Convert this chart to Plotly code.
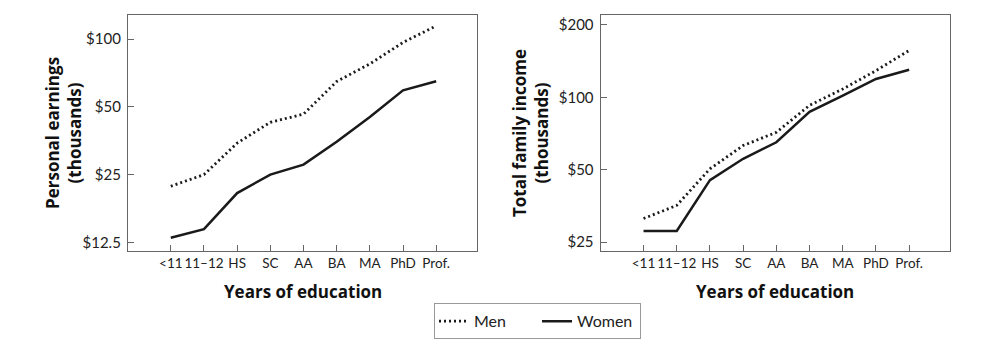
import plotly.graph_objects as go

categories = ["<11", "11\u201312", "HS", "SC", "AA", "BA", "MA", "PhD", "Prof."]

earn_men = [22.2, 25.0, 34.5, 42.7, 46.4, 64.8, 77.6, 96.6, 114.5]
earn_women = [13.1, 14.3, 20.7, 25.0, 27.7, 35.0, 45.1, 59.2, 65.0]

fam_men = [31.3, 35.5, 50.4, 63.0, 71.5, 92.6, 108.3, 129.1, 156.7]
fam_women = [27.8, 27.8, 45.2, 55.5, 65.0, 87.0, 101.6, 119.2, 130.3]

earn_ticks = [12.5, 25, 50, 100]
earn_ticktext = ["$12.5", "$25", "$50", "$100"]
fam_ticks = [25, 50, 100, 200]
fam_ticktext = ["$25", "$50", "$100", "$200"]

FONT = "Lato"
TFONT = "Open Sans"
LINE = "#1a1a1a"
FRAME = "#666666"
xs = list(range(len(categories)))

fig = go.Figure()
men_style = dict(color=LINE, width=2.8, dash="2px,3px")
women_style = dict(color=LINE, width=2.5)

fig.add_trace(go.Scatter(x=xs, y=earn_men, mode="lines", line=men_style, name="Men",
                         xaxis="x", yaxis="y", legendgroup="m"))
fig.add_trace(go.Scatter(x=xs, y=earn_women, mode="lines", line=women_style, name="Women",
                         xaxis="x", yaxis="y", legendgroup="w"))
fig.add_trace(go.Scatter(x=xs, y=fam_men, mode="lines", line=men_style, name="Men",
                         xaxis="x2", yaxis="y2", legendgroup="m", showlegend=False))
fig.add_trace(go.Scatter(x=xs, y=fam_women, mode="lines", line=women_style, name="Women",
                         xaxis="x2", yaxis="y2", legendgroup="w", showlegend=False))

W, H = 1007, 353
L, R, T, B = 128, 57, 14.5, 101.5
pw = W - L - R
ph = H - T - B

def px(x):
    return (x - L) / pw

def py(y):
    return (H - B - y) / ph

common_x = dict(tickmode="array", tickvals=xs, ticktext=categories, range=[-1.29, 9.23],
                tickangle=0,
                showgrid=False, zeroline=False, showline=True, mirror=True, linecolor=FRAME,
                linewidth=1.3, ticks="inside", ticklen=6, tickcolor=FRAME, tickwidth=1.3,
                tickfont=dict(family=FONT, size=13.5, color="#222"), fixedrange=True)
common_y = dict(type="log", tickmode="array", showgrid=False, zeroline=False, showline=True,
                mirror=True, linecolor=FRAME, linewidth=1.3, ticks="inside", ticklen=6,
                tickcolor=FRAME, tickwidth=1.3, tickfont=dict(family=FONT, size=15, color="#222"),
                ticklabelstandoff=3, fixedrange=True)

fig.update_layout(
    width=W, height=H,
    margin=dict(l=L, r=R, t=T, b=B),
    paper_bgcolor="white", plot_bgcolor="white",
    xaxis=dict(domain=[0, px(477)], anchor="y", **common_x),
    xaxis2=dict(domain=[px(600.7), 1], anchor="y2", **common_x),
    yaxis=dict(domain=[0, 1], anchor="x", range=[1.0586, 2.107], tickvals=earn_ticks,
               ticktext=earn_ticktext, **common_y),
    yaxis2=dict(domain=[0, 1], anchor="x2", range=[1.3605, 2.3425], tickvals=fam_ticks,
                ticktext=fam_ticktext, **common_y),
    legend=dict(orientation="h", x=px(537.5), xanchor="center", y=py(304), yanchor="top",
                bordercolor="#999", borderwidth=1, font=dict(family=FONT, size=16, color="#222"),
                itemwidth=30, tracegroupgap=0, entrywidth=58),
    showlegend=True,
)

title_font = dict(family=TFONT, size=17, color="#111")
fig.add_annotation(text="<b>Years of education</b>", x=px(302.5), y=py(292), xref="paper", yref="paper",
                   showarrow=False, font=title_font, xanchor="center", yanchor="middle")
fig.add_annotation(text="<b>Years of education</b>", x=px(775), y=py(292), xref="paper", yref="paper",
                   showarrow=False, font=title_font, xanchor="center", yanchor="middle")
fig.add_annotation(text="<b>Personal earnings<br>(thousands)</b>", x=px(63), y=py(133),
                   xref="paper", yref="paper", showarrow=False, font=title_font, textangle=-90,
                   xanchor="center", yanchor="middle")
fig.add_annotation(text="<b>Total family income<br>(thousands)</b>", x=px(530), y=py(133),
                   xref="paper", yref="paper", showarrow=False, font=title_font, textangle=-90,
                   xanchor="center", yanchor="middle")

fig.write_html("out.html")
